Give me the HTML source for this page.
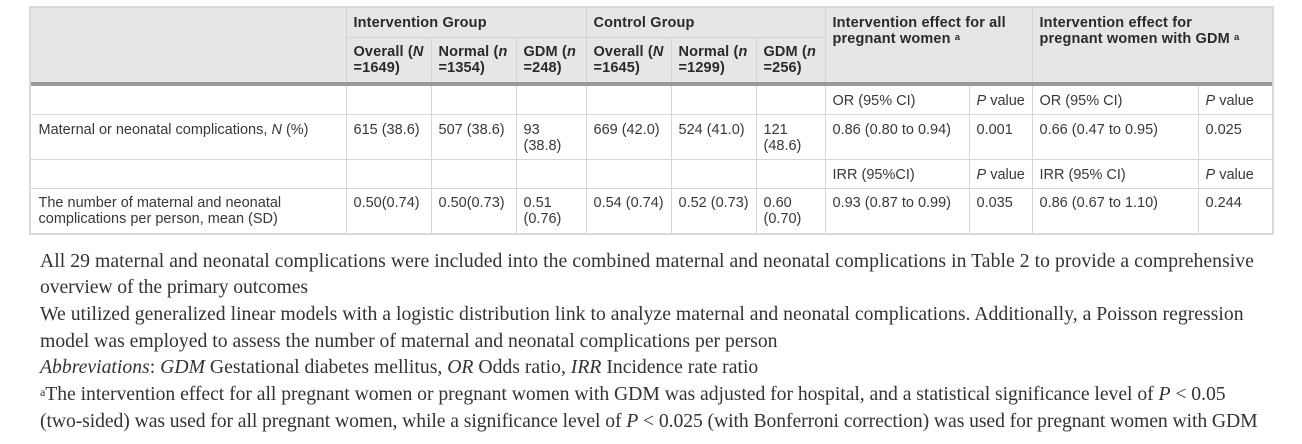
<!DOCTYPE html>
<html>
<head>
<meta charset="utf-8">
<style>
  html,body{margin:0;padding:0;background:#fff;}
  body{width:1302px;height:444px;position:relative;overflow:hidden;}
  .box{position:absolute;left:29px;top:6px;width:1241px;height:225px;border:2px solid #d9d9d9;background:#fff;}
  .hbg{position:absolute;left:31px;top:8px;width:1241px;height:74px;background:#e6e6e6;}
  .thick{position:absolute;left:31px;top:82px;width:1241px;height:4px;background:#9b9b9b;}
  .h{position:absolute;height:1px;background:#d6d6d6;}
  .v{position:absolute;width:1px;background:#d6d6d6;}
  .hv{position:absolute;width:1px;background:#d3d3d3;}
  .c{position:absolute;font-family:"Liberation Sans",Arial,sans-serif;font-size:14.5px;line-height:16px;color:#383838;white-space:nowrap;padding-left:7.5px;}
  .b{font-weight:bold;color:#2a2a2a;letter-spacing:0.15px;}
  .sup{font-size:9.5px;vertical-align:top;position:relative;top:-1px;}
  .fn{position:absolute;left:40px;top:247.5px;font-family:"Liberation Serif","Times New Roman",serif;font-size:19.7px;line-height:26.7px;color:#333;white-space:nowrap;}
  .fn div{height:26.7px;}
  .fsup{font-size:12px;vertical-align:top;position:relative;top:-2px;}
</style>
</head>
<body>
<div class="box"></div>
<div class="hbg"></div>
<div class="thick"></div>

<!-- header lines -->
<div class="h" style="left:346px;top:37px;width:480px;background:#d3d3d3;"></div>
<div class="hv" style="left:346px;top:8px;height:74px;"></div>
<div class="hv" style="left:431px;top:37px;height:45px;"></div>
<div class="hv" style="left:516px;top:37px;height:45px;"></div>
<div class="hv" style="left:586px;top:8px;height:74px;"></div>
<div class="hv" style="left:671px;top:37px;height:45px;"></div>
<div class="hv" style="left:756px;top:37px;height:45px;"></div>
<div class="hv" style="left:825px;top:8px;height:74px;"></div>
<div class="hv" style="left:1032px;top:8px;height:74px;"></div>

<!-- body lines -->
<div class="h" style="left:31px;top:114px;width:1241px;"></div>
<div class="h" style="left:31px;top:159px;width:1241px;"></div>
<div class="h" style="left:31px;top:188px;width:1241px;"></div>
<div class="v" style="left:346px;top:86px;height:147px;"></div>
<div class="v" style="left:431px;top:86px;height:147px;"></div>
<div class="v" style="left:516px;top:86px;height:147px;"></div>
<div class="v" style="left:586px;top:86px;height:147px;"></div>
<div class="v" style="left:671px;top:86px;height:147px;"></div>
<div class="v" style="left:756px;top:86px;height:147px;"></div>
<div class="v" style="left:825px;top:86px;height:147px;"></div>
<div class="v" style="left:969px;top:86px;height:147px;"></div>
<div class="v" style="left:1032px;top:86px;height:147px;"></div>
<div class="v" style="left:1198px;top:86px;height:147px;"></div>

<!-- header text -->
<div class="c b" style="left:346px;top:14.5px;">Intervention Group</div>
<div class="c b" style="left:586px;top:14.5px;">Control Group</div>
<div class="c b" style="left:825px;top:14.5px;">Intervention effect for all<br>pregnant women <span class="sup">a</span></div>
<div class="c b" style="left:1032px;top:14.5px;">Intervention effect for<br>pregnant women with GDM <span class="sup">a</span></div>

<div class="c b" style="left:346px;top:43.5px;">Overall (<i>N</i><br>=1649)</div>
<div class="c b" style="left:431px;top:43.5px;">Normal (<i>n</i><br>=1354)</div>
<div class="c b" style="left:516px;top:43.5px;">GDM (<i>n</i><br>=248)</div>
<div class="c b" style="left:586px;top:43.5px;">Overall (<i>N</i><br>=1645)</div>
<div class="c b" style="left:671px;top:43.5px;">Normal (<i>n</i><br>=1299)</div>
<div class="c b" style="left:756px;top:43.5px;">GDM (<i>n</i><br>=256)</div>

<!-- row a -->
<div class="c" style="left:825px;top:92.5px;">OR (95% CI)</div>
<div class="c" style="left:969px;top:92.5px;"><i>P</i> value</div>
<div class="c" style="left:1032px;top:92.5px;">OR (95% CI)</div>
<div class="c" style="left:1198px;top:92.5px;"><i>P</i> value</div>

<!-- row b -->
<div class="c" style="left:31px;top:121.5px;">Maternal or neonatal complications, <i>N</i> (%)</div>
<div class="c" style="left:346px;top:121.5px;">615 (38.6)</div>
<div class="c" style="left:431px;top:121.5px;">507 (38.6)</div>
<div class="c" style="left:516px;top:121.5px;">93<br>(38.8)</div>
<div class="c" style="left:586px;top:121.5px;">669 (42.0)</div>
<div class="c" style="left:671px;top:121.5px;">524 (41.0)</div>
<div class="c" style="left:756px;top:121.5px;">121<br>(48.6)</div>
<div class="c" style="left:825px;top:121.5px;">0.86 (0.80 to 0.94)</div>
<div class="c" style="left:969px;top:121.5px;">0.001</div>
<div class="c" style="left:1032px;top:121.5px;">0.66 (0.47 to 0.95)</div>
<div class="c" style="left:1198px;top:121.5px;">0.025</div>

<!-- row c -->
<div class="c" style="left:825px;top:166.5px;">IRR (95%CI)</div>
<div class="c" style="left:969px;top:166.5px;"><i>P</i> value</div>
<div class="c" style="left:1032px;top:166.5px;">IRR (95% CI)</div>
<div class="c" style="left:1198px;top:166.5px;"><i>P</i> value</div>

<!-- row d -->
<div class="c" style="left:31px;top:194.5px;">The number of maternal and neonatal<br>complications per person, mean (SD)</div>
<div class="c" style="left:346px;top:194.5px;">0.50(0.74)</div>
<div class="c" style="left:431px;top:194.5px;">0.50(0.73)</div>
<div class="c" style="left:516px;top:194.5px;">0.51<br>(0.76)</div>
<div class="c" style="left:586px;top:194.5px;">0.54 (0.74)</div>
<div class="c" style="left:671px;top:194.5px;">0.52 (0.73)</div>
<div class="c" style="left:756px;top:194.5px;">0.60<br>(0.70)</div>
<div class="c" style="left:825px;top:194.5px;">0.93 (0.87 to 0.99)</div>
<div class="c" style="left:969px;top:194.5px;">0.035</div>
<div class="c" style="left:1032px;top:194.5px;">0.86 (0.67 to 1.10)</div>
<div class="c" style="left:1198px;top:194.5px;">0.244</div>

<!-- footnotes -->
<div class="fn">
  <div style="letter-spacing:0.047px;">All 29 maternal and neonatal complications were included into the combined maternal and neonatal complications in Table 2 to provide a comprehensive</div>
  <div style="letter-spacing:-0.1px;">overview of the primary outcomes</div>
  <div style="letter-spacing:0.013px;">We utilized generalized linear models with a logistic distribution link to analyze maternal and neonatal complications. Additionally, a Poisson regression</div>
  <div>model was employed to assess the number of maternal and neonatal complications per person</div>
  <div><i>Abbreviations</i>: <i>GDM</i> Gestational diabetes mellitus, <i>OR</i> Odds ratio, <i>IRR</i> Incidence rate ratio</div>
  <div style="letter-spacing:-0.047px;"><span class="fsup">a</span>The intervention effect for all pregnant women or pregnant women with GDM was adjusted for hospital, and a statistical significance level of <i>P</i> &lt; 0.05</div>
  <div style="letter-spacing:-0.092px;">(two-sided) was used for all pregnant women, while a significance level of <i>P</i> &lt; 0.025 (with Bonferroni correction) was used for pregnant women with GDM</div>
</div>
</body>
</html>
